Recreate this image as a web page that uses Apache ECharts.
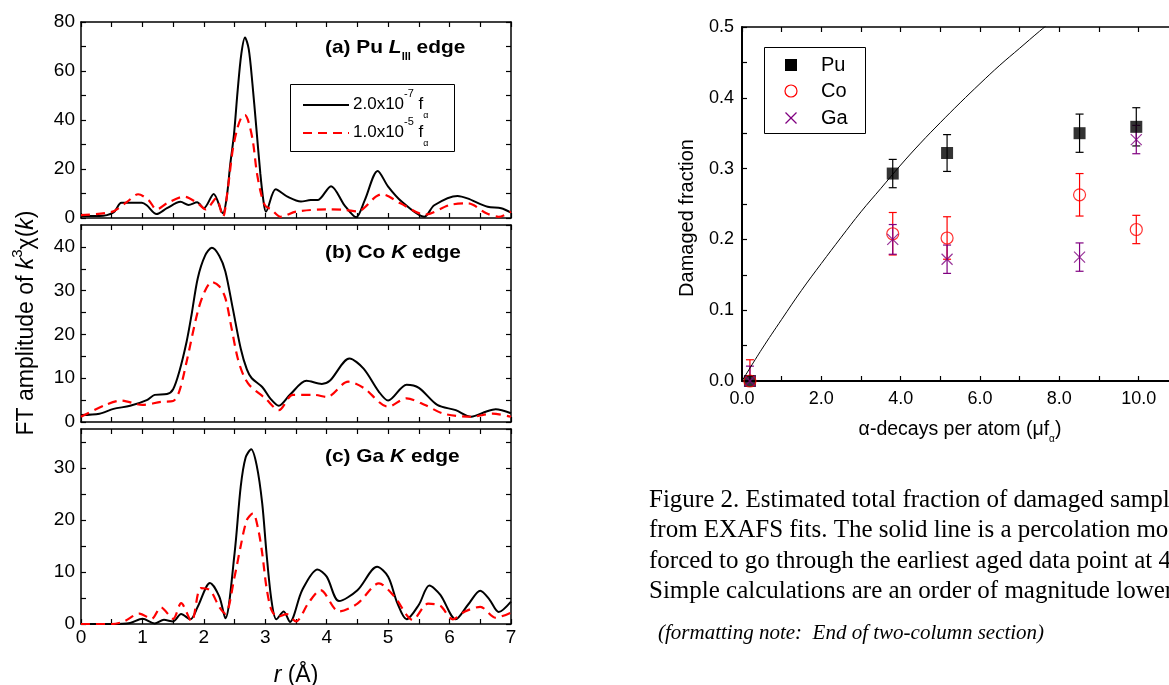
<!DOCTYPE html>
<html>
<head>
<meta charset="utf-8">
<script src="https://cdn.jsdelivr.net/npm/echarts@6/dist/echarts.min.js"></script>
<style>
  html, body { margin: 0; padding: 0; background: #fff; }
  #chart { width: 1169px; height: 685px; }
</style>
</head>
<body>
<div id="chart"></div>
<script>
// panel (a) Pu L_III edge
var rA1 = [0, 0.3, 0.53, 0.66, 0.99, 1.07, 1.23, 1.4, 1.62, 1.75, 1.89, 2.0, 2.16, 2.31, 2.37, 2.43, 2.49, 2.55, 2.61, 2.67, 2.73, 2.79, 2.85, 2.92, 2.97, 3.01, 3.17, 3.36, 3.58, 3.74, 3.85, 4.07, 4.29, 4.48, 4.62, 4.83, 5.0, 5.22, 5.59, 5.75, 6.13, 6.29, 6.62, 6.84, 7.0];
var vA1 = [0.8, 0.8, 2.3, 6.2, 6.2, 5.2, 1.6, 4, 6.6, 5.3, 6.4, 4, 9.8, 1.9, 8, 22, 34, 52, 67, 73.7, 69, 55, 38, 18, 7, 2.6, 11.7, 8.7, 6.7, 7.3, 7.3, 13, 5.2, 0.3, 7.3, 19.2, 12.8, 6.7, 0.5, 5.2, 9, 8, 4.6, 4, 2.2];
var rA2 = [0, 0.5, 0.75, 0.93, 1.1, 1.23, 1.4, 1.68, 1.9, 2.03, 2.2, 2.31, 2.39, 2.47, 2.55, 2.62, 2.67, 2.73, 2.8, 2.86, 2.93, 3.0, 3.1, 3.25, 3.5, 4.0, 4.3, 4.5, 4.8, 4.9, 5.2, 5.6, 6.0, 6.3, 6.6, 6.8, 7.0];
var vA2 = [1.2, 2.5, 6.6, 9.7, 7.3, 3.5, 6, 8.7, 6, 3.5, 8, 0.5, 12, 27.8, 37, 41.5, 42, 39, 31, 19, 10, 5, 3.4, 0.5, 2.6, 3.5, 3.3, 2.7, 8.7, 9.7, 6, 1.4, 5.3, 6, 1.9, 0.5, 2.6];

// panel (b) Co K edge
var rB1 = [0, 0.3, 0.53, 0.8, 1.07, 1.2, 1.4, 1.5, 1.6, 1.72, 1.8, 1.9, 2.02, 2.13, 2.25, 2.35, 2.47, 2.6, 2.7, 2.78, 2.95, 3.08, 3.22, 3.4, 3.67, 3.92, 4.05, 4.37, 4.6, 4.85, 5.0, 5.3, 5.5, 5.8, 6.1, 6.35, 6.6, 6.75, 7.0];
var vB1 = [1.6, 1.9, 3, 3.7, 5, 6.2, 6.4, 7.5, 11.5, 18.4, 24.5, 32.8, 38, 39.8, 38, 34.4, 26, 16.8, 12, 10, 8, 5.4, 3.7, 6.2, 9.4, 8.7, 9.4, 14.5, 12.2, 6.9, 4.9, 8.5, 7.8, 3.9, 2.7, 1.2, 2.4, 2.9, 2];
var rB2 = [0, 0.4, 0.65, 1.0, 1.3, 1.5, 1.6, 1.72, 1.9, 2.02, 2.13, 2.25, 2.35, 2.45, 2.55, 2.65, 2.75, 3.0, 3.22, 3.45, 3.8, 4.0, 4.35, 4.6, 5.0, 5.3, 5.6, 5.9, 6.35, 6.7, 7.0];
var vB2 = [1.2, 3.9, 4.9, 3.9, 4.6, 4.8, 7, 13.8, 25.2, 30, 32, 31, 28.3, 21.5, 14.6, 10.5, 8.3, 5.4, 2.7, 6.2, 6.2, 5.7, 9.2, 7.8, 3.5, 5.4, 3.9, 1.9, 1.2, 1.9, 1.2];

// panel (c) Ga K edge
var rC1 = [0, 0.5, 0.8, 1.0, 1.2, 1.35, 1.5, 1.63, 1.78, 1.9, 2.1, 2.25, 2.35, 2.5, 2.6, 2.68, 2.77, 2.86, 2.95, 3.02, 3.1, 3.18, 3.3, 3.4, 3.6, 3.85, 4.0, 4.2, 4.5, 4.82, 5.0, 5.15, 5.3, 5.5, 5.67, 5.85, 6.1, 6.3, 6.5, 6.65, 6.8, 7.0];
var vC1 = [0, 0, 0.2, 1.0, 0.1, 0.8, 0.5, 1.9, 0.9, 3.3, 7.9, 5.3, 1.1, 13.6, 26.4, 32, 33.6, 30.5, 23.2, 13.6, 4.6, 0.9, 2.4, 0.4, 6.5, 10.5, 9.1, 4.4, 6.5, 11, 9.1, 4, 0.9, 3.7, 7.4, 5.6, 0.9, 3.7, 6.4, 4.7, 2.3, 4.3];
var rC2 = [0, 0.5, 0.7, 0.95, 1.15, 1.3, 1.5, 1.63, 1.8, 1.95, 2.1, 2.25, 2.35, 2.5, 2.6, 2.7, 2.8, 2.88, 2.95, 3.02, 3.1, 3.2, 3.35, 3.5, 3.7, 3.9, 4.2, 4.5, 4.85, 5.1, 5.4, 5.65, 5.85, 6.05, 6.25, 6.5, 6.75, 7.0];
var vC2 = [0, 0, 0.5, 2, 1, 3.2, 1, 4, 0.5, 6.9, 6.5, 3.3, 2, 9.1, 15, 20, 21.3, 18.5, 13.6, 7, 2.7, 1.4, 1.9, 0.5, 4, 6.5, 2.4, 3.9, 7.8, 5.3, 0.8, 3.9, 3.5, 0.9, 2.4, 3.3, 1.2, 2.2];

// right plot: damaged fraction vs alpha-decays
var dose = [0.2, 3.8, 5.17, 8.51, 9.94];
var puVal = [0.0, 0.293, 0.322, 0.350, 0.359];
var puErr = [0.007, 0.02, 0.026, 0.027, 0.027];
var coVal = [0.0, 0.208, 0.202, 0.263, 0.214];
var coErr = [0.03, 0.03, 0.03, 0.03, 0.02];
var gaVal = [0.0, 0.200, 0.172, 0.175, 0.341];
var gaErr = [0.021, 0.021, 0.02, 0.02, 0.02];
var modelX = [0, 0.5, 1, 1.5, 2, 2.5, 3, 3.5, 4, 4.5, 5, 5.5, 6, 6.5, 7, 7.5, 8];
var modelY = [0, 0.045, 0.087, 0.128, 0.166, 0.203, 0.239, 0.272, 0.305, 0.336, 0.365, 0.393, 0.42, 0.446, 0.47, 0.494, 0.517];

var SANS = '"Liberation Sans", Arial, sans-serif';
var SERIF = '"Liberation Serif", "Times New Roman", serif';

function zip(xs, ys) {
  return xs.map(function (x, i) { return [x, ys[i]]; });
}

function axis(grid, pos, min, max, interval, labelFmt, fontSize, margin) {
  return {
    type: 'value', gridIndex: grid, position: pos, min: min, max: max, interval: interval,
    axisLine: { show: true, onZero: false, lineStyle: { color: '#000', width: 1.5 } },
    axisTick: { show: true, inside: true, length: 5, lineStyle: { color: '#000', width: 1.2 } },
    axisLabel: { show: !!labelFmt, formatter: labelFmt, color: '#000', fontSize: fontSize || 17,
      fontFamily: SANS, margin: margin || 5, showMaxLabel: true, hideOverlap: false },
    splitLine: { show: false }
  };
}

function everyN(n, digits) {
  return function (v) {
    var k = Math.round(v / n * 1000) / 1000;
    if (Math.abs(k - Math.round(k)) > 1e-6) return '';
    return digits ? v.toFixed(digits) : String(Math.round(v));
  };
}

var grids = [
  { left: 81, top: 22, width: 430, height: 196 },
  { left: 81, top: 225, width: 430, height: 197 },
  { left: 81, top: 429, width: 430, height: 195 },
  { left: 742, top: 27, width: 476, height: 354 }
].map(function (g) { g.containLabel = false; g.outerBoundsMode = 'none'; return g; });

var yMax = [80, 45, 37.5];
var yStep = [10, 5, 5];
var yLab = [20, 10, 10];

var xAxes = [], yAxes = [];
for (var g = 0; g < 3; g++) {
  xAxes.push(axis(g, 'bottom', 0, 7, 0.5, g === 2 ? everyN(1) : null, 19, 4));
  xAxes.push(axis(g, 'top', 0, 7, 0.5, null));
  var ya = axis(g, 'left', 0, yMax[g], yStep[g], everyN(yLab[g]), 19, 6);
  if (g > 0) ya.axisLabel.showMaxLabel = false;
  yAxes.push(ya);
  yAxes.push(axis(g, 'right', 0, yMax[g], yStep[g], null));
}
xAxes.push(axis(3, 'bottom', 0, 12, 1, everyN(2, 1), 18, 9));
xAxes.push(axis(3, 'top', 0, 12, 1, null));
var yR = axis(3, 'left', 0, 0.5, 0.05, everyN(0.1, 1), 18, 8);
yR.axisLine.lineStyle.width = 2;
xAxes[6].axisLine.lineStyle.width = 2;
yAxes.push(yR);

function ftLine(g, xs, ys, dashed) {
  return {
    type: 'line', xAxisIndex: 2 * g, yAxisIndex: 2 * g, data: zip(xs, ys),
    smooth: 0.3, showSymbol: false, symbol: 'none', silent: true,
    lineStyle: dashed ? { color: '#ff0000', width: 2.2, type: [9, 6] } : { color: '#000', width: 2 }
  };
}

function errBars(vals, errs, color) {
  return {
    type: 'custom', xAxisIndex: 6, yAxisIndex: 6, clip: true, silent: true,
    data: dose.map(function (x, i) { return [x, vals[i] - errs[i], vals[i] + errs[i]]; }),
    renderItem: function (params, api) {
      var lo = api.coord([api.value(0), api.value(1)]);
      var hi = api.coord([api.value(0), api.value(2)]);
      var w = 4, st = { stroke: color, lineWidth: 1.2 };
      return { type: 'group', children: [
        { type: 'line', shape: { x1: lo[0], y1: lo[1], x2: hi[0], y2: hi[1] }, style: st },
        { type: 'line', shape: { x1: lo[0] - w, y1: lo[1], x2: lo[0] + w, y2: lo[1] }, style: st },
        { type: 'line', shape: { x1: hi[0] - w, y1: hi[1], x2: hi[0] + w, y2: hi[1] }, style: st }
      ] };
    }
  };
}

var CROSS = 'path://M0,0L10,10M10,0L0,10';

var series = [
  ftLine(0, rA1, vA1, false), ftLine(0, rA2, vA2, true),
  ftLine(1, rB1, vB1, false), ftLine(1, rB2, vB2, true),
  ftLine(2, rC1, vC1, false), ftLine(2, rC2, vC2, true),
  { type: 'line', xAxisIndex: 6, yAxisIndex: 6, data: zip(modelX, modelY), smooth: 0.4,
    showSymbol: false, symbol: 'none', silent: true, lineStyle: { color: '#000', width: 1 } },
  errBars(puVal, puErr, '#000'),
  { type: 'scatter', xAxisIndex: 6, yAxisIndex: 6, data: zip(dose, puVal), symbol: 'rect',
    symbolSize: 12, itemStyle: { color: '#000' }, silent: true },
  errBars(coVal, coErr, '#ff0000'),
  { type: 'scatter', xAxisIndex: 6, yAxisIndex: 6, data: zip(dose, coVal), symbol: 'circle',
    symbolSize: 12, itemStyle: { color: 'none', borderColor: '#ff0000', borderWidth: 1.2 }, silent: true },
  errBars(gaVal, gaErr, '#800080'),
  { type: 'scatter', xAxisIndex: 6, yAxisIndex: 6, data: zip(dose, gaVal), symbol: CROSS,
    symbolSize: 11, itemStyle: { color: 'none', borderColor: '#800080', borderWidth: 1.2 }, silent: true }
];

var richBase = {
  t: { fontFamily: SANS, fontSize: 23, lineHeight: 34, fill: '#000' },
  ti: { fontFamily: SANS, fontSize: 23, fontStyle: 'italic', lineHeight: 34, fill: '#000' },
  sup: { fontFamily: SANS, fontSize: 15, lineHeight: 16, verticalAlign: 'top', fill: '#000' },
  sub: { fontFamily: SANS, fontSize: 12, lineHeight: 13, verticalAlign: 'bottom', fill: '#000' }
};

function panelTitle(y, pre, it, sub, post) {
  return {
    type: 'text', x: 325, y: y, scaleX: 1.1,
    style: {
      text: '{b|' + pre + '}{bi|' + it + '}' + (sub ? '{s|' + sub + '}' : '') + '{b|' + post + '}',
      verticalAlign: 'middle', align: 'left',
      rich: {
        b: { fontFamily: SANS, fontSize: 19, fontWeight: 'bold', lineHeight: 28, fill: '#000' },
        bi: { fontFamily: SANS, fontSize: 19, fontWeight: 'bold', fontStyle: 'italic', lineHeight: 28, fill: '#000' },
        s: { fontFamily: SANS, fontSize: 10, fontWeight: 'bold', lineHeight: 11, verticalAlign: 'bottom', fill: '#000' }
      }
    }
  };
}

function legendText(x, y, mant, exp) {
  return {
    type: 'text', x: x, y: y,
    style: {
      text: '{a|' + mant + '}{p|' + exp + '}{a| f}{q|\u03b1}',
      verticalAlign: 'middle',
      rich: {
        a: { fontFamily: SANS, fontSize: 17, lineHeight: 32, fill: '#000' },
        p: { fontFamily: SANS, fontSize: 11, lineHeight: 20, verticalAlign: 'top', fill: '#000' },
        q: { fontFamily: SANS, fontSize: 9, lineHeight: 10, verticalAlign: 'bottom', fill: '#000' }
      }
    }
  };
}

var caption = [
  'Figure 2. Estimated total fraction of damaged samples',
  'from EXAFS fits. The solid line is a percolation model',
  'forced to go through the earliest aged data point at 4',
  'Simple calculations are an order of magnitude lower'
];

var graphics = [
  panelTitle(48, '(a) Pu ', 'L', 'III', ' edge'),
  panelTitle(253, '(b) Co ', 'K', '', ' edge'),
  panelTitle(457, '(c) Ga ', 'K', '', ' edge'),
  { type: 'rect', shape: { x: 290.5, y: 84.5, width: 164, height: 67 },
    style: { fill: '#fff', stroke: '#000', lineWidth: 1 } },
  { type: 'line', shape: { x1: 303, y1: 105, x2: 349, y2: 105 }, style: { stroke: '#000', lineWidth: 2 } },
  { type: 'line', shape: { x1: 303, y1: 133, x2: 349, y2: 133 },
    style: { stroke: '#ff0000', lineWidth: 2.2, lineDash: [9, 6] } },
  legendText(353, 104, '2.0x10', '-7'),
  legendText(353, 132, '1.0x10', '-5'),
  { type: 'text', x: 27, y: 323, rotation: Math.PI / 2,
    style: { text: '{t|FT amplitude of }{ti|k}{sup|3}{t|\u03c7(}{ti|k}{t|)}', align: 'center',
      verticalAlign: 'middle', rich: richBase } },
  { type: 'text', x: 296, y: 676,
    style: { text: '{ti|r}{t| (\u00c5)}', align: 'center', verticalAlign: 'middle', rich: richBase } },
  // right plot legend
  { type: 'rect', shape: { x: 764.5, y: 47.5, width: 101, height: 86 },
    style: { fill: '#fff', stroke: '#000', lineWidth: 1 } },
  { type: 'rect', shape: { x: 785, y: 59, width: 12, height: 12 }, style: { fill: '#000' } },
  { type: 'circle', shape: { cx: 791, cy: 91, r: 6 }, style: { fill: 'none', stroke: '#ff0000', lineWidth: 1.2 } },
  { type: 'line', shape: { x1: 785.5, y1: 112.5, x2: 796.5, y2: 123.5 }, style: { stroke: '#800080', lineWidth: 1.2 } },
  { type: 'line', shape: { x1: 796.5, y1: 112.5, x2: 785.5, y2: 123.5 }, style: { stroke: '#800080', lineWidth: 1.2 } },
  { type: 'text', x: 821, y: 65, style: { text: 'Pu', fontFamily: SANS, fontSize: 20, fill: '#000', verticalAlign: 'middle' } },
  { type: 'text', x: 821, y: 91, style: { text: 'Co', fontFamily: SANS, fontSize: 20, fill: '#000', verticalAlign: 'middle' } },
  { type: 'text', x: 821, y: 118, style: { text: 'Ga', fontFamily: SANS, fontSize: 20, fill: '#000', verticalAlign: 'middle' } },
  { type: 'text', x: 687, y: 218, rotation: Math.PI / 2,
    style: { text: 'Damaged fraction', fontFamily: SANS, fontSize: 20, fill: '#000', align: 'center', verticalAlign: 'middle' } },
  { type: 'text', x: 960, y: 430,
    style: { text: '{t|\u03b1-decays per atom (\u03bcf}{sub|\u03b1}{t|)}', align: 'center', verticalAlign: 'middle',
      rich: {
        t: { fontFamily: SANS, fontSize: 19.5, lineHeight: 28, fill: '#000' },
        sub: { fontFamily: SANS, fontSize: 10, lineHeight: 11, verticalAlign: 'bottom', fill: '#000' }
      } } },
  { type: 'text', x: 658, y: 633,
    style: { text: '(formatting note:  End of two-column section)', fontFamily: SERIF, fontSize: 21,
      fontStyle: 'italic', fill: '#000', verticalAlign: 'middle' } }
];
caption.forEach(function (line, i) {
  graphics.push({ type: 'text', x: 649, y: 500 + i * 30.5,
    style: { text: line, fontFamily: SERIF, fontSize: 25, fill: '#000', verticalAlign: 'middle' } });
});

var chart = echarts.init(document.getElementById('chart'));
chart.setOption({
  backgroundColor: '#fff',
  animation: false,
  grid: grids,
  xAxis: xAxes,
  yAxis: yAxes,
  series: series,
  graphic: graphics
});
window.onresize = function () { chart.resize(); };
</script>
</body>
</html>
